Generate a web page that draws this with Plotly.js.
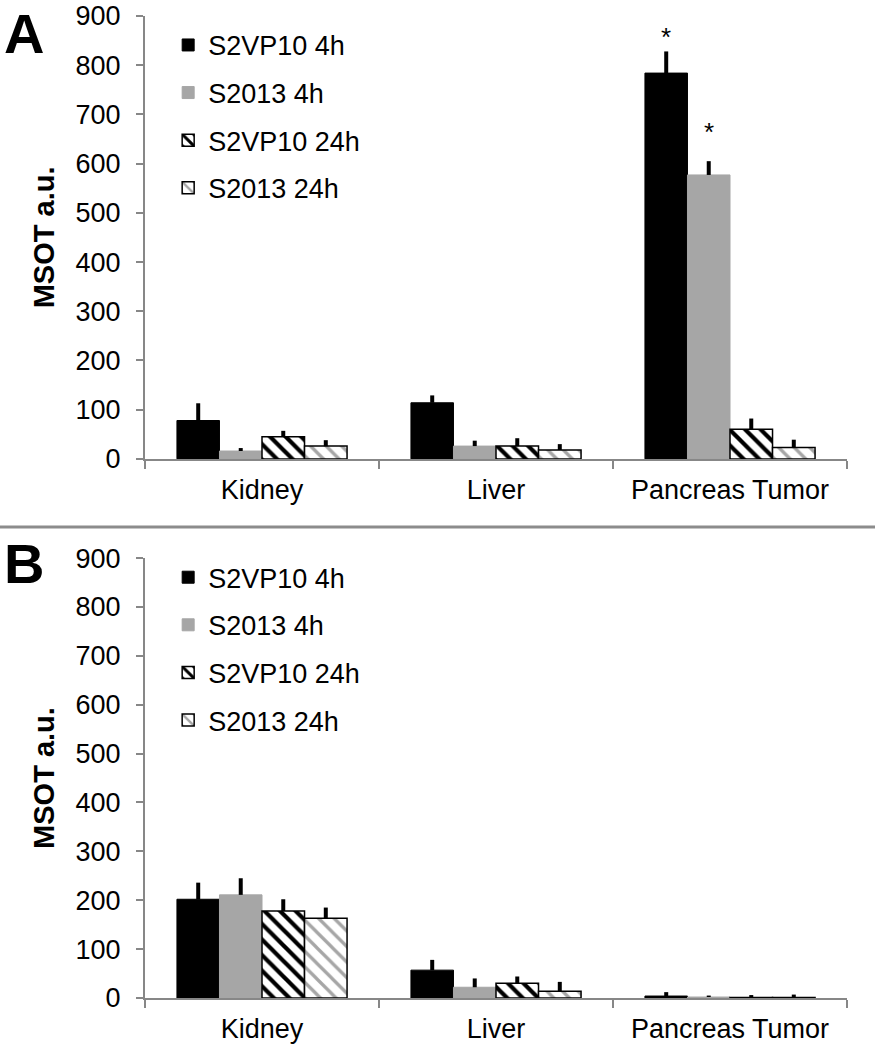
<!DOCTYPE html>
<html>
<head>
<meta charset="utf-8">
<script src="https://cdn.plot.ly/plotly-3.0.1.min.js"></script>
<style>
  html, body { margin: 0; padding: 0; background: #fff; }
  #chart { width: 875px; height: 1050px; }
</style>
</head>
<body>
<div id="chart"></div>
<script>
// organs on the x axis
const organs = ['Kidney', 'Liver', 'Pancreas Tumor'];
const seriesNames = ['S2VP10 4h', 'S2013 4h', 'S2VP10 24h', 'S2013 24h'];

// panel A, MSOT a.u. (mean and upper error)
const aS2VP10_4h = [78, 114, 784];
const aS2VP10_4hErr = [35, 15, 44];
const aS2013_4h = [16, 26, 577];
const aS2013_4hErr = [6, 11, 28];
const aS2VP10_24h = [45, 26, 60];
const aS2VP10_24hErr = [12, 16, 22];
const aS2013_24h = [26, 18, 23];
const aS2013_24hErr = [12, 12, 16];
// significance marks in panel A (series index, organ index)
const aStars = [[0, 2], [1, 2]];

// panel B
const bS2VP10_4h = [202, 57, 4];
const bS2VP10_4hErr = [34, 21, 8];
const bS2013_4h = [211, 22, 2];
const bS2013_4hErr = [34, 18, 3];
const bS2VP10_24h = [178, 30, 1];
const bS2VP10_24hErr = [24, 14, 5];
const bS2013_24h = [163, 14, 1];
const bS2013_24hErr = [22, 19, 6];

const FONT = 'Liberation Sans, Arial, sans-serif';
const GRAY = '#a6a6a6';
const AXIS = '#878787';

const styles = [
  { color: '#000000', line: { color: '#000000', width: 1 } },
  { color: GRAY, line: { color: GRAY, width: 1 } },
  { color: '#ffffff', line: { color: '#000000', width: 1.5 },
    pattern: { shape: '\\', fgcolor: '#000000', bgcolor: '#ffffff', size: 11, solidity: 0.38 } },
  { color: '#ffffff', line: { color: '#000000', width: 1.5 },
    pattern: { shape: '\\', fgcolor: GRAY, bgcolor: '#ffffff', size: 11, solidity: 0.3 } }
];

function barTrace(name, idx, values, errs, xa, ya, legend) {
  return {
    type: 'bar',
    name: name,
    x: organs,
    y: values,
    xaxis: xa,
    yaxis: ya,
    legend: legend,
    legendgroup: legend + idx,
    marker: styles[idx],
    error_y: {
      type: 'data', symmetric: false, array: errs, arrayminus: errs.map(() => 0),
      color: '#000000', thickness: 4, width: 0
    },
    hoverinfo: 'x+y+name'
  };
}

const aValues = [aS2VP10_4h, aS2013_4h, aS2VP10_24h, aS2013_24h];
const aErrs = [aS2VP10_4hErr, aS2013_4hErr, aS2VP10_24hErr, aS2013_24hErr];
const bValues = [bS2VP10_4h, bS2013_4h, bS2VP10_24h, bS2013_24h];
const bErrs = [bS2VP10_4hErr, bS2013_4hErr, bS2VP10_24hErr, bS2013_24hErr];

const traces = [];
seriesNames.forEach((name, i) => traces.push(barTrace(name, i, aValues[i], aErrs[i], 'x', 'y', 'legend')));
seriesNames.forEach((name, i) => traces.push(barTrace(name, i, bValues[i], bErrs[i], 'x2', 'y2', 'legend2')));

// plot geometry
const W = 875, H = 1050;
const margin = { l: 145, r: 28, t: 16, b: 52 };
const plotW = W - margin.l - margin.r;
const BARGAP = 0.273;
const barPx = plotW / organs.length * (1 - BARGAP) / seriesNames.length;

// the stars do not sit at the same height above their error bars
const starLift = [-9, 6];
const stars = aStars.map(([s, o], k) => ({
  xref: 'x', yref: 'y',
  x: organs[o], y: aValues[s][o] + aErrs[s][o],
  xshift: (s - (seriesNames.length - 1) / 2) * barPx,
  yshift: 6 + starLift[k], yanchor: 'bottom',
  text: '*', showarrow: false,
  font: { family: FONT, size: 26, color: '#000' }
}));

function yAxis(domain, anchor) {
  return {
    domain: domain, anchor: anchor,
    range: [0, 900], dtick: 100,
    showgrid: false, zeroline: false,
    showline: true, linecolor: AXIS, linewidth: 2,
    ticks: 'outside', ticklen: 7, tickwidth: 2, tickcolor: AXIS,
    ticklabelstandoff: 10,
    tickfont: { family: FONT, size: 27, color: '#000' },
    title: { text: 'MSOT a.u.', standoff: 12,
      font: { family: FONT, size: 29, color: '#000', weight: 'bold' } }
  };
}

function xAxis(anchor) {
  return {
    anchor: anchor, domain: [0, 1],
    type: 'category', range: [-0.5, 2.5],
    showgrid: false, zeroline: false,
    showline: true, linecolor: AXIS, linewidth: 2,
    ticks: 'outside', tickson: 'boundaries', ticklen: 8, tickwidth: 2, tickcolor: AXIS,
    ticklabelstandoff: 6,
    tickfont: { family: FONT, size: 27, color: '#000' }
  };
}

const legendBase = {
  xanchor: 'left', yanchor: 'top', x: 0.033,
  bgcolor: 'rgba(0,0,0,0)', borderwidth: 0,
  traceorder: 'grouped', tracegroupgap: 9.5,
  font: { family: FONT, size: 27, color: '#000' }
};

const layout = {
  width: W, height: H,
  margin: margin,
  paper_bgcolor: '#fff', plot_bgcolor: '#fff',
  barmode: 'group', bargap: BARGAP, bargroupgap: 0,
  showlegend: true,
  font: { family: FONT },
  xaxis: xAxis('y'),
  yaxis: yAxis([0.549, 1], 'x'),
  xaxis2: xAxis('y2'),
  yaxis2: yAxis([0, 0.448], 'x2'),
  legend: Object.assign({}, legendBase, { y: 0.995 }),
  legend2: Object.assign({}, legendBase, { y: 0.453 }),
  shapes: [
    { type: 'line', xref: 'paper', yref: 'paper', x0: -1, x1: 2, y0: 0.4796, y1: 0.4796,
      line: { color: '#8c8c8c', width: 3 } }
  ],
  annotations: stars.concat([
    { xref: 'paper', yref: 'paper', x: -0.172, y: 0.983, text: '<b>A</b>', showarrow: false,
      height: 50, xanchor: 'center', yanchor: 'middle', font: { family: FONT, size: 56, color: '#000' } },
    { xref: 'paper', yref: 'paper', x: -0.172, y: 0.443, text: '<b>B</b>', showarrow: false,
      height: 50, xanchor: 'center', yanchor: 'middle', font: { family: FONT, size: 56, color: '#000' } }
  ])
};

Plotly.newPlot('chart', traces, layout, { staticPlot: true });
</script>
</body>
</html>
